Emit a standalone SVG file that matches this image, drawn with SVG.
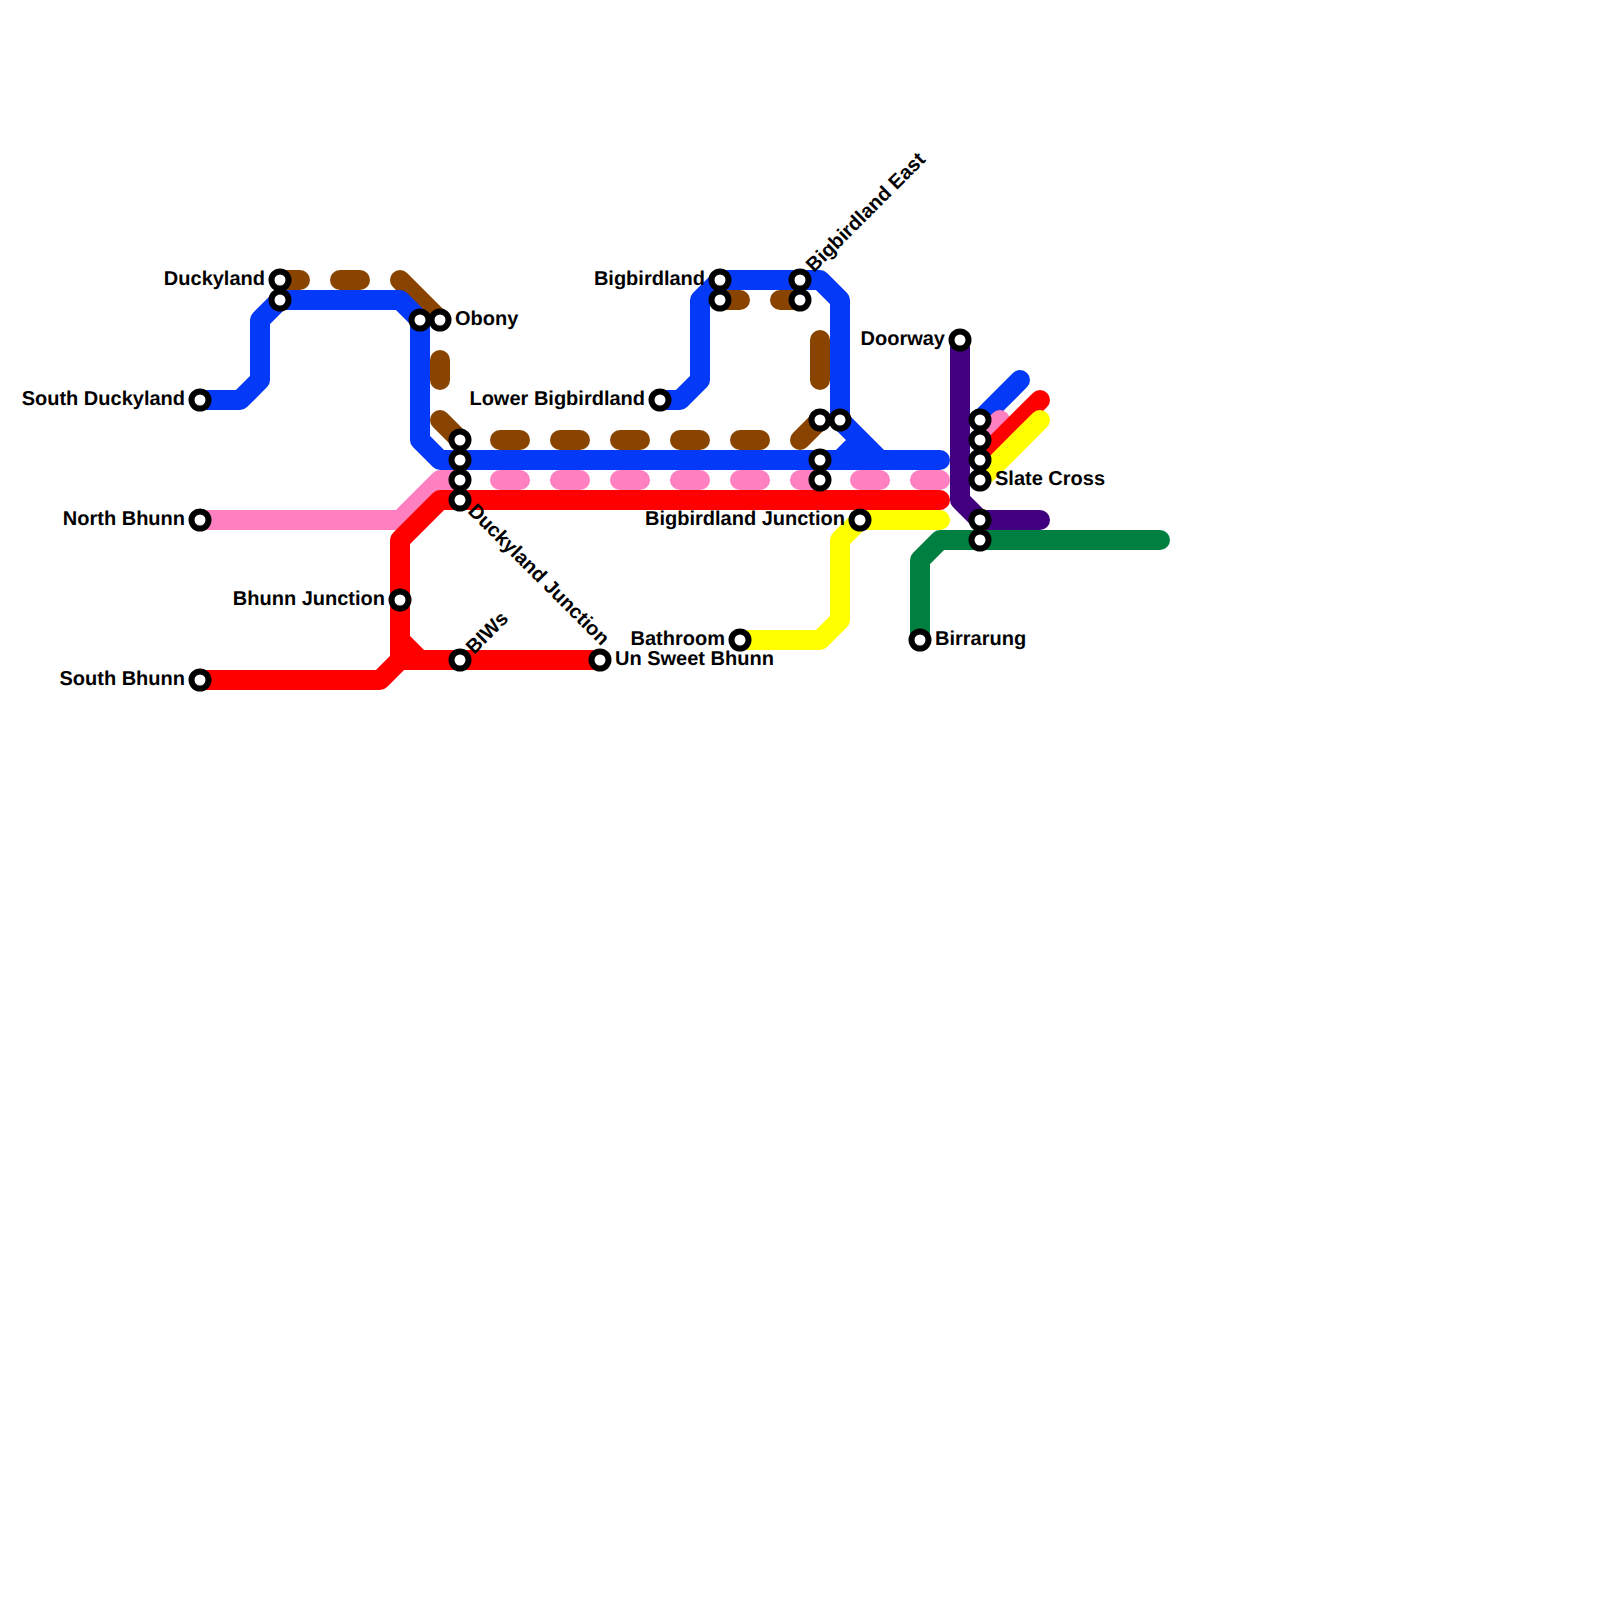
<svg xmlns="http://www.w3.org/2000/svg" width="1600" height="1600" viewBox="0 0 1600 1600">
<style>
.l{fill:none;stroke-width:20;stroke-linecap:round;stroke-linejoin:round}
.s{fill:#fff;stroke:#000;stroke-width:6}
text{font-family:"Liberation Sans",Arial,sans-serif;font-weight:700;font-size:20px;fill:#000;text-rendering:geometricPrecision}
.e{text-anchor:end}
</style>
<rect width="1600" height="1600" fill="#fff"/>
<g id="connectors">
<path class="l" stroke="#884400" d="M280 280H300M340 280H360M400 280L440 320M440 360V380M440 420L460 440M500 440H520M560 440H580M620 440H640M680 440H700M740 440H760M800 440L820 420M820 340V380M800 300H780M740 300H720"/>
<path class="l" stroke="#0439f8" d="M200 400H240L260 380V320L280 300H400L420 320V440L440 460H940"/>
<path class="l" stroke="#0439f8" d="M660 400H680L700 380V300L720 280H820L840 300V420L880 460M840 460L860 440"/>
<path class="l" stroke="#0439f8" d="M980 420L1020 380"/>
<path class="l" stroke="#ff80c0" d="M200 520H400L440 480H460M500 480H520M560 480H580M620 480H640M680 480H700M740 480H760M800 480H820M860 480H880M920 480H940M980 440L1000 420"/>
<path class="l" stroke="#ff0000" d="M200 680H380L400 660V540L440 500H940M400 640L420 660H600M400 660H420M980 460L1040 400"/>
<path class="l" stroke="#ffff00" d="M740 640H820L840 620V540L860 520H940M980 480L1040 420"/>
<path class="l" stroke="#400080" d="M960 340V500L980 520H1040"/>
<path class="l" stroke="#008040" d="M920 640V560L940 540H1160"/>
</g>
<g id="n-south-duckyland"><circle class="s" cx="200" cy="400" r="8.5"/><text class="e" x="185" y="405">South Duckyland</text></g>
<g id="n-duckyland"><circle class="s" cx="280" cy="280" r="8.5"/><circle class="s" cx="280" cy="300" r="8.5"/><text class="e" x="265" y="285">Duckyland</text></g>
<g id="n-obony"><circle class="s" cx="420" cy="320" r="8.5"/><circle class="s" cx="440" cy="320" r="8.5"/><text x="455" y="325">Obony</text></g>
<g id="n-duckyland-junction"><circle class="s" cx="460" cy="440" r="8.5"/><circle class="s" cx="460" cy="460" r="8.5"/><circle class="s" cx="460" cy="480" r="8.5"/><circle class="s" cx="460" cy="500" r="8.5"/><text transform="translate(467 512) rotate(45)">Duckyland Junction</text></g>
<g id="n-north-bhunn"><circle class="s" cx="200" cy="520" r="8.5"/><text class="e" x="185" y="525">North Bhunn</text></g>
<g id="n-bhunn-junction"><circle class="s" cx="400" cy="600" r="8.5"/><text class="e" x="385" y="605">Bhunn Junction</text></g>
<g id="n-south-bhunn"><circle class="s" cx="200" cy="680" r="8.5"/><text class="e" x="185" y="685">South Bhunn</text></g>
<g id="n-biws"><circle class="s" cx="460" cy="660" r="8.5"/><text transform="translate(474 655) rotate(-45)">BIWs</text></g>
<g id="n-un-sweet-bhunn"><circle class="s" cx="600" cy="660" r="8.5"/><text x="615" y="665">Un Sweet Bhunn</text></g>
<g id="n-lower-bigbirdland"><circle class="s" cx="660" cy="400" r="8.5"/><text class="e" x="645" y="405">Lower Bigbirdland</text></g>
<g id="n-bigbirdland"><circle class="s" cx="720" cy="280" r="8.5"/><circle class="s" cx="720" cy="300" r="8.5"/><text class="e" x="705" y="285">Bigbirdland</text></g>
<g id="n-bigbirdland-east"><circle class="s" cx="800" cy="280" r="8.5"/><circle class="s" cx="800" cy="300" r="8.5"/><text transform="translate(814 273) rotate(-45)">Bigbirdland East</text></g>
<g id="n-interchange-a"><circle class="s" cx="820" cy="420" r="8.5"/><circle class="s" cx="840" cy="420" r="8.5"/></g>
<g id="n-interchange-b"><circle class="s" cx="820" cy="460" r="8.5"/><circle class="s" cx="820" cy="480" r="8.5"/></g>
<g id="n-bigbirdland-junction"><circle class="s" cx="860" cy="520" r="8.5"/><text class="e" x="845" y="525">Bigbirdland Junction</text></g>
<g id="n-bathroom"><circle class="s" cx="740" cy="640" r="8.5"/><text class="e" x="725" y="645">Bathroom</text></g>
<g id="n-birrarung"><circle class="s" cx="920" cy="640" r="8.5"/><text x="935" y="645">Birrarung</text></g>
<g id="n-doorway"><circle class="s" cx="960" cy="340" r="8.5"/><text class="e" x="945" y="345">Doorway</text></g>
<g id="n-slate-cross"><circle class="s" cx="980" cy="420" r="8.5"/><circle class="s" cx="980" cy="440" r="8.5"/><circle class="s" cx="980" cy="460" r="8.5"/><circle class="s" cx="980" cy="480" r="8.5"/><text x="995" y="485">Slate Cross</text></g>
<g id="n-interchange-c"><circle class="s" cx="980" cy="520" r="8.5"/><circle class="s" cx="980" cy="540" r="8.5"/></g>
</svg>
